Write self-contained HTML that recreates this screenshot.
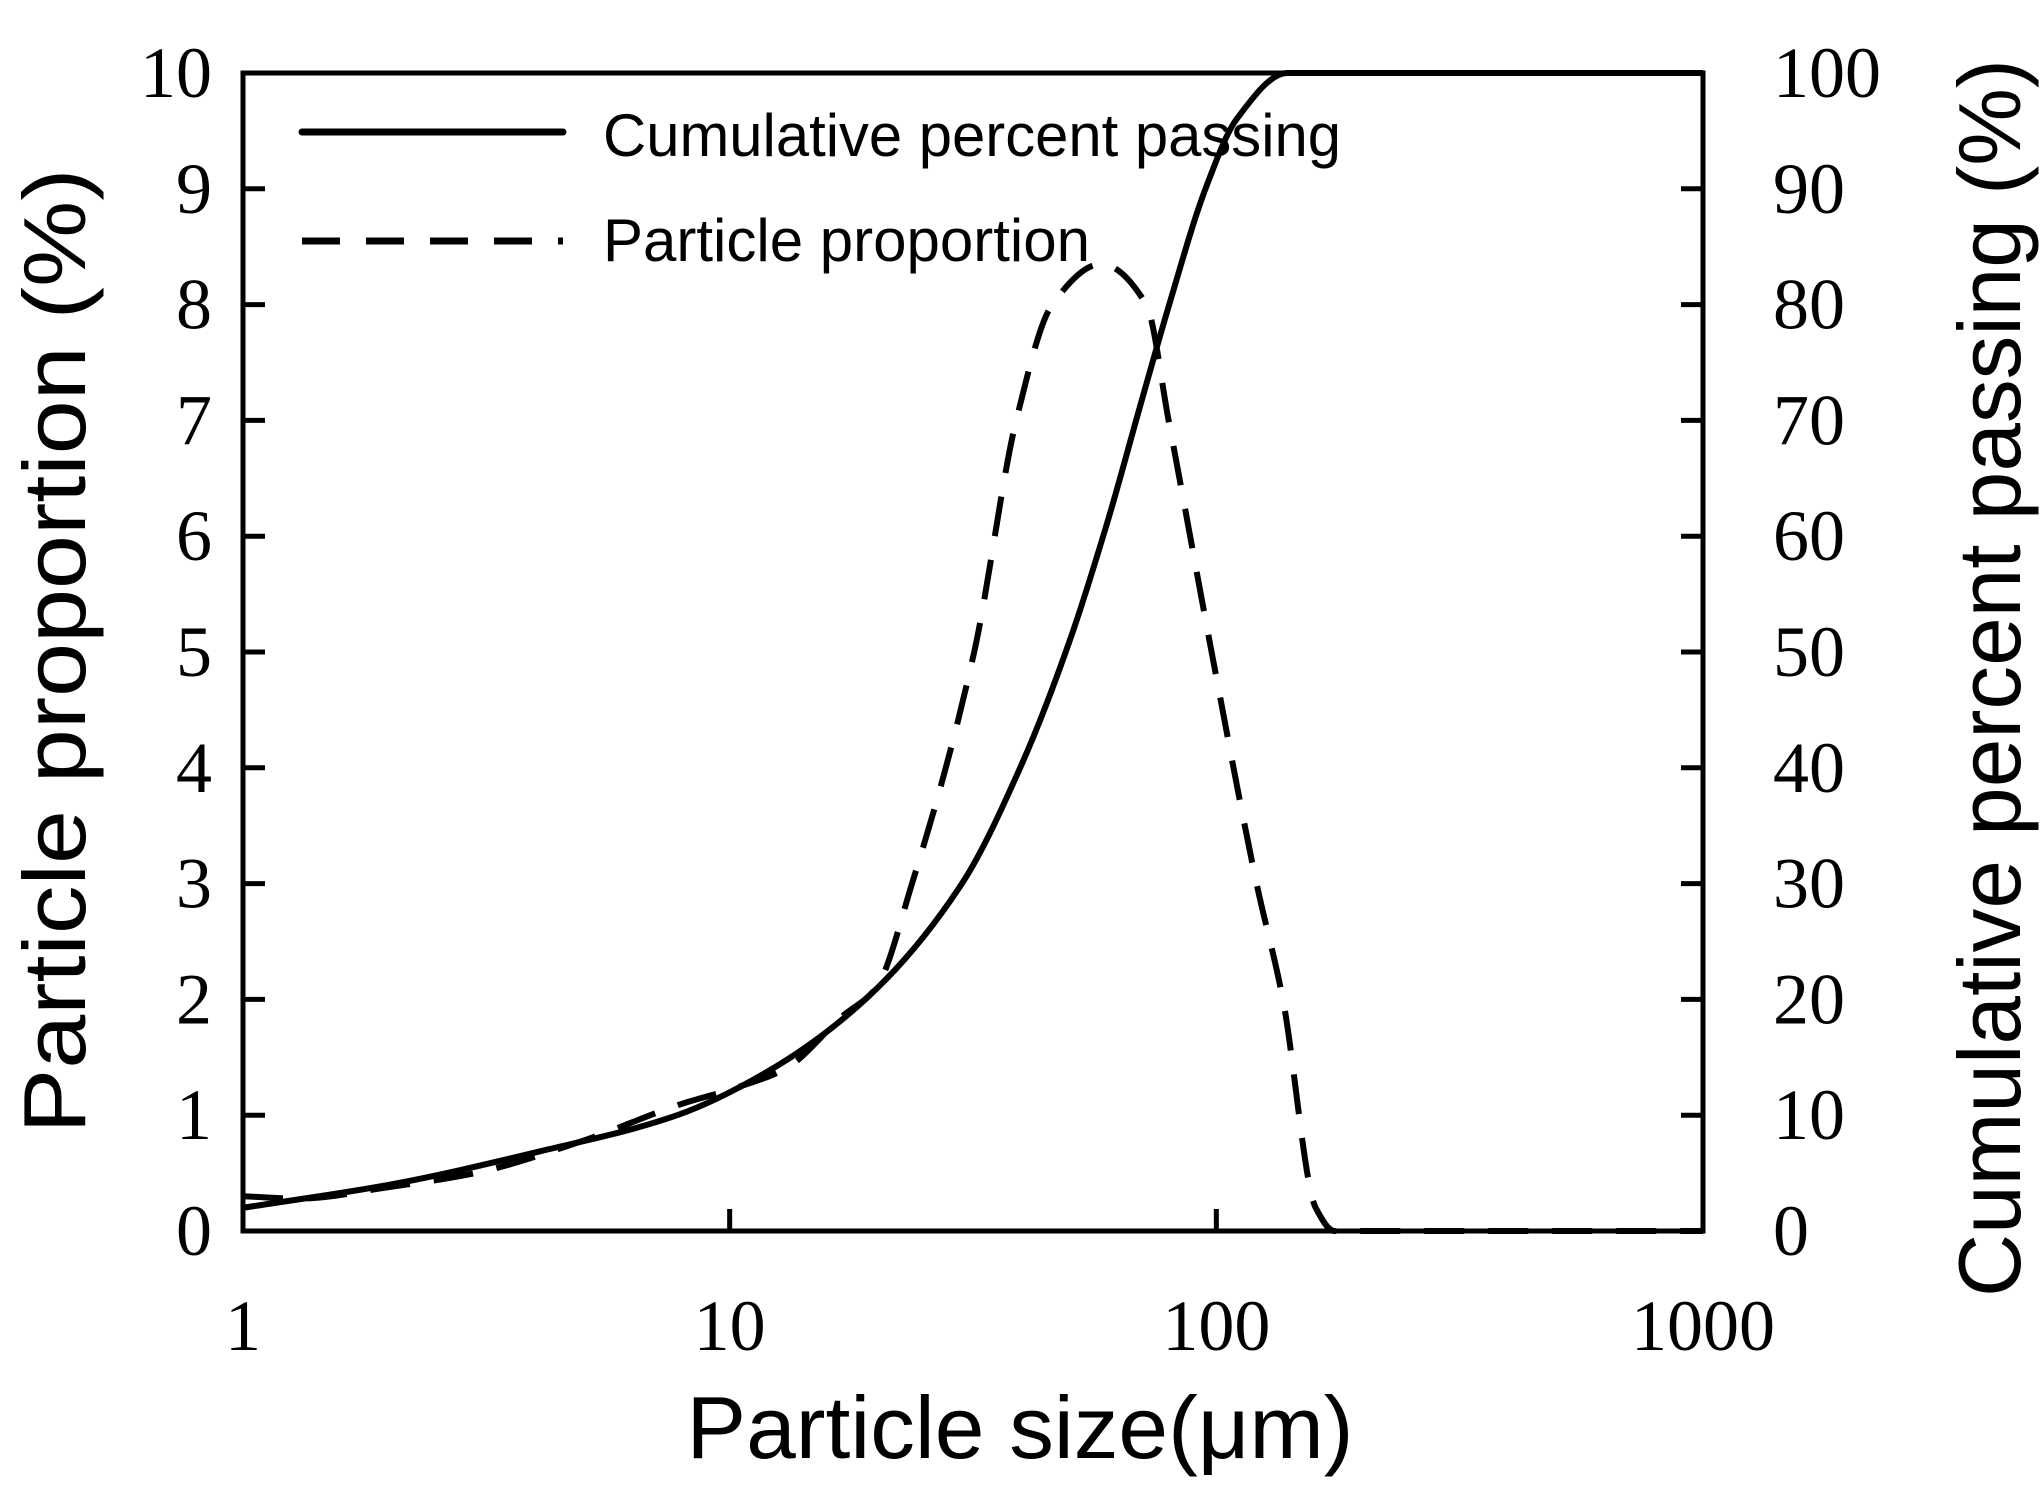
<!DOCTYPE html>
<html><head><meta charset="utf-8"><style>html,body{margin:0;padding:0;background:#fff}svg{display:block}</style></head>
<body>
<svg id="s" width="2043" height="1486" viewBox="0 0 2043 1486" xmlns="http://www.w3.org/2000/svg">
<rect width="2043" height="1486" fill="#fff"/>
<g stroke="#000" stroke-width="5" fill="none" stroke-linecap="square">
<rect x="243" y="73" width="1460" height="1158"/>
</g>
<g id="ticks" stroke="#000" stroke-width="5"></g>
<g id="labels" font-family="Liberation Serif, serif" font-size="72" fill="#000"></g>
<path id="cum" fill="none" stroke="#000" stroke-width="6" stroke-linejoin="round"/>
<path id="prop" fill="none" stroke="#000" stroke-width="6" stroke-dasharray="40 24"/>
<line x1="302" y1="132" x2="563" y2="132" stroke="#000" stroke-width="7" stroke-linecap="round"/>
<line x1="302" y1="241" x2="563" y2="241" stroke="#000" stroke-width="7" stroke-dasharray="38 26"/>
<g font-family="Liberation Sans, sans-serif" fill="#000">
<text x="603" y="156" font-size="60" textLength="738" lengthAdjust="spacingAndGlyphs">Cumulative percent passing</text>
<text x="603" y="261" font-size="60" textLength="487" lengthAdjust="spacingAndGlyphs">Particle proportion</text>
<text x="1020" y="1458" font-size="88" text-anchor="middle" textLength="667" lengthAdjust="spacingAndGlyphs">Particle size(μm)</text>
<text transform="translate(85,651) rotate(-90)" font-size="88" text-anchor="middle" textLength="965" lengthAdjust="spacingAndGlyphs">Particle proportion (%)</text>
<text transform="translate(2020,678) rotate(-90)" font-size="88" text-anchor="middle" textLength="1238" lengthAdjust="spacingAndGlyphs">Cumulative percent passing (%)</text>
</g>
</svg>
<script>
const X=v=>243+Math.log10(v)*486.67;
const T=document.getElementById('ticks'),L=document.getElementById('labels');
const ns='http://www.w3.org/2000/svg';
function el(p,tag,a,txt){const e=document.createElementNS(ns,tag);for(const k in a)e.setAttribute(k,a[k]);if(txt!=null)e.textContent=txt;p.appendChild(e);}
for(let i=0;i<=10;i++){const y=1231-i*115.8;
 el(T,'line',{x1:243,x2:265,y1:y,y2:y});el(T,'line',{x1:1681,x2:1703,y1:y,y2:y});
 el(L,'text',{x:212,y:y+24,'text-anchor':'end'},String(i));
 el(L,'text',{x:1773,y:y+24},String(i*10));}
[1,10,100,1000].forEach((v,i)=>{const x=X(v);if(i>0&&i<3)el(T,'line',{x1:x,x2:x,y1:1231,y2:1209});
 el(L,'text',{x:x,y:1350,'text-anchor':'middle'},String(v));});
function mono(pts,yf){
 const xs=pts.map(p=>X(p[0])),ys=pts.map(p=>yf(p[1])),n=xs.length;
 const d=[],m=new Array(n);
 for(let i=0;i<n-1;i++)d.push((ys[i+1]-ys[i])/(xs[i+1]-xs[i]));
 m[0]=d[0];m[n-1]=d[n-2];
 for(let i=1;i<n-1;i++){if(d[i-1]*d[i]<=0)m[i]=0;else{const h0=xs[i]-xs[i-1],h1=xs[i+1]-xs[i];const w1=2*h1+h0,w2=h1+2*h0;m[i]=(w1+w2)/(w1/d[i-1]+w2/d[i]);}}
 let s='M'+xs[0].toFixed(1)+' '+ys[0].toFixed(1);
 for(let i=0;i<n-1;i++){const h=xs[i+1]-xs[i];
  s+=` C${(xs[i]+h/3).toFixed(1)} ${(ys[i]+m[i]*h/3).toFixed(1)} ${(xs[i+1]-h/3).toFixed(1)} ${(ys[i+1]-m[i+1]*h/3).toFixed(1)} ${xs[i+1].toFixed(1)} ${ys[i+1].toFixed(1)}`;}
 return s;}
const cum=[[1,2.0],[2,4.0],[4,6.8],[7.8,10],[12,13.8],[19,20],[30,30],[40,40.5],[50,51],[60,61.5],[70,71.5],[80,80],[95,90],[110,96],[140,100],[1000,100]];
document.getElementById('cum').setAttribute('d',mono(cum,v=>1231-v*11.58));
const prop=[[1,0.3],[1.3,0.28],[2,0.38],[3,0.5],[5,0.78],[8,1.1],[10,1.22],[13,1.4],[17,1.85],[20,2.1],[23.7,3.0],[31.8,5.0],[38.8,7.0],[46,8.0],[58,8.35],[71.8,8.0],[79.8,7.0],[97.8,5.0],[121,3.0],[137,2.0],[160,0.2],[175,0.0],[1000,0.0]];
document.getElementById('prop').setAttribute('d',mono(prop,v=>1231-v*115.8));
</script>
</body></html>
